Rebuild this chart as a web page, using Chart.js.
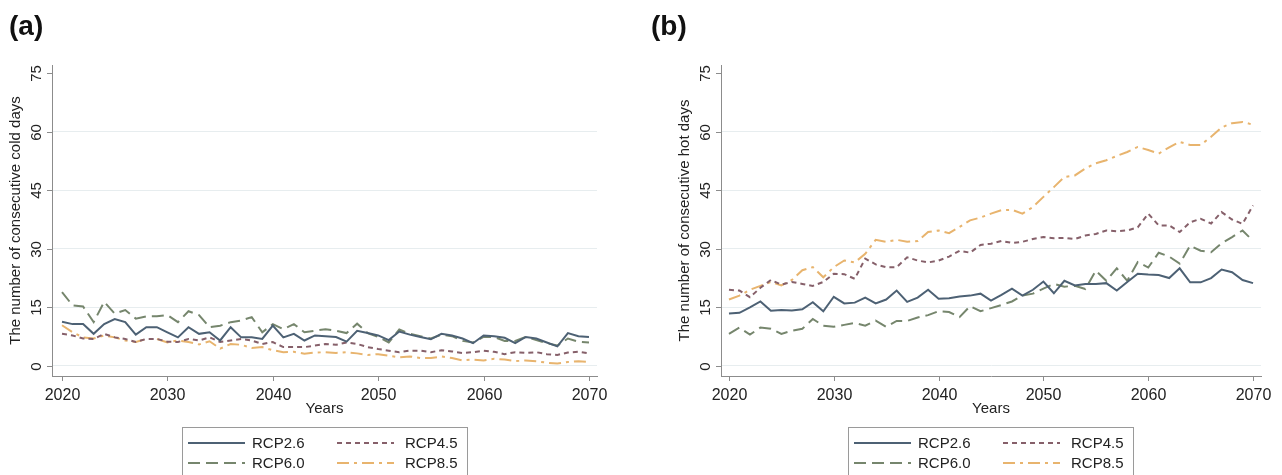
<!DOCTYPE html>
<html>
<head>
<meta charset="utf-8">
<script src="https://cdn.jsdelivr.net/npm/chart.js@4.4.1/dist/chart.umd.min.js"></script>
<style>
  body { margin: 0; background: #fff; }
  .wrap { display: flex; width: 1282px; height: 475px; overflow: hidden; }
  canvas { display: block; }
</style>
</head>
<body>
<div class="wrap">
  <canvas id="coldChart" width="641" height="475"></canvas>
  <canvas id="hotChart" width="641" height="475"></canvas>
</div>
<script>
// years on the x axis
const years = [2020,2021,2022,2023,2024,2025,2026,2027,2028,2029,
  2030,2031,2032,2033,2034,2035,2036,2037,2038,2039,
  2040,2041,2042,2043,2044,2045,2046,2047,2048,2049,
  2050,2051,2052,2053,2054,2055,2056,2057,2058,2059,
  2060,2061,2062,2063,2064,2065,2066,2067,2068,2069,2070]

const seriesNames = ['RCP2.6', 'RCP4.5', 'RCP6.0', 'RCP8.5']
const xTicks = [2020, 2030, 2040, 2050, 2060, 2070]
const yTicks = [0, 15, 30, 45, 60, 75]

// (a) consecutive cold days
const cold26 = [11.3,10.7,10.7,8.2,10.7,12,11.2,8,9.9,9.9,
  8.6,7.3,9.9,8.2,8.6,6.5,9.9,7.3,7.3,6.9,
  10.3,7.3,8.2,6.5,7.8,7.6,7.4,6.2,9,8.4,
  7.8,6.6,8.8,8,7.4,6.8,8.2,7.8,7,5.8,
  7.8,7.6,7.2,5.8,7.4,7,6,5,8.4,7.6,7.4]
const cold45 = [8.2,7.8,7,6.9,8.2,7.3,6.9,6.1,6.9,6.9,
  6.2,6.1,6.9,6.5,7.3,6.1,6.5,6.9,6.5,5.6,
  6.1,4.8,4.8,4.8,5.2,5.6,5.4,6,5.6,4.8,
  4.3,3.9,3.5,3.9,3.9,3.5,4,3.7,3.3,3.5,
  3.9,3.6,3,3.5,3.3,3.5,3,2.8,3.4,3.6,3.2]
const cold60 = [18.9,15.5,15.2,11.2,16.4,13.4,14.3,12.1,12.7,12.7,
  13,11.2,14,13,9.9,10.3,11.2,11.6,12.5,8.6,
  10.7,9.4,10.7,8.6,9,9.4,9,8.4,10.8,8.4,
  7.4,6,9.3,8.2,7.6,7,8,7.6,6.4,6,
  7.4,7.4,6.4,6.4,7.4,6.6,5.8,5.2,7,6.2,6]
const cold85 = [10.4,8.6,7.3,7,7.8,7.3,6.5,6.1,6.9,6.9,
  6,6.5,6.1,5.5,6.3,4.4,5.6,5.4,4.6,4.8,
  4,3.5,3.6,3.1,3.4,3.5,3.3,3.5,3.2,2.8,
  3,2.6,2.2,2.4,2,2,2.4,2,1.4,1.6,
  1.4,1.8,1.6,1.2,1.4,1.2,0.8,0.6,1,1.2,1]

// (b) consecutive hot days
const hot26 = [13.4,13.6,15,16.5,14.1,14.3,14.2,14.5,16.3,14,
  17.7,16,16.2,17.5,16,17,19.3,16.4,17.5,19.5,
  17.2,17.3,17.8,18,18.5,16.7,18.2,19.8,18,19.5,
  21.6,18.6,21.8,20.6,21,21,21.2,19.3,21.5,23.6,
  23.4,23.3,22.5,25,21.4,21.4,22.5,24.7,24,22,21.2]
const hot45 = [19.5,19.3,17.6,20,22,20.8,21.5,21,20.5,21.5,
  23.6,23.5,22.3,27.5,26,25.3,25.3,27.8,27,26.5,
  27,28,29.5,29,31,31.3,32,31.5,31.8,32.5,
  33,32.7,32.8,32.5,33.4,33.8,34.7,34.5,34.7,35.5,
  39,36,36,34.3,36.8,37.7,36.5,39.4,37.5,36.4,41.1]
const hot60 = [8.2,9.8,8,9.8,9.5,8.2,9,9.5,12,10.3,
  10,10.5,11,10.3,11.6,10,11.5,11.5,12.4,13,
  14,13.8,12.5,15.3,14,14.8,15.6,16.5,18,18.5,
  19.8,21,20.3,20.5,19.7,24.4,21.8,25,21.8,26.6,
  25.2,29,28,26.2,30.8,29.5,29.1,31.4,33,34.7,32]
const hot85 = [17,18,19.5,20.5,21.5,20.6,22,24.5,25.3,22.7,
  25.3,27,26.5,28.7,32.3,31.8,32.3,31.8,32,34.3,
  34.7,34,35.6,37.3,38,39,39.9,40,39,40.7,
  43.3,45.8,48.4,48.8,50.6,51.9,52.7,53.8,54.8,56.1,
  55.3,54.4,56,57.4,56.6,56.6,58.7,61.1,62.2,62.5,61.8]

const lineColors = ['#4d6174', '#86606a', '#76866d', '#e8b46e']
const lineDashes = [[], [5, 4], [12, 6], [12, 5, 3, 5]]
const FONT = '"Liberation Sans", Arial, sans-serif'

const toPoints = (vals) => vals.map((v, i) => ({x: years[i], y: v}))

// axis text, ticks, panel label and legend, placed with the chart's scales
const decorPlugin = {
  id: 'decor',
  afterDraw(chart, args, opts) {
    const ctx = chart.ctx
    const {left, right, top, bottom} = chart.chartArea
    const xs = chart.scales.x
    const ys = chart.scales.y
    ctx.save()
    ctx.strokeStyle = '#8c8c8c'
    ctx.lineWidth = 1
    ctx.fillStyle = '#222'

    // x ticks
    ctx.font = '16px ' + FONT
    ctx.textAlign = 'center'
    ctx.textBaseline = 'middle'
    xTicks.forEach(v => {
      const px = Math.round(xs.getPixelForValue(v)) + 0.5
      ctx.beginPath(); ctx.moveTo(px, bottom); ctx.lineTo(px, bottom + 5); ctx.stroke()
      ctx.fillText(String(v), px, bottom + 20)
    })

    // y ticks, labels turned like the original
    ctx.font = '15px ' + FONT
    yTicks.forEach(v => {
      const py = Math.round(ys.getPixelForValue(v)) + 0.5
      ctx.beginPath(); ctx.moveTo(left - 5, py); ctx.lineTo(left, py); ctx.stroke()
      ctx.save()
      ctx.translate(left - 15, py)
      ctx.rotate(-Math.PI / 2)
      ctx.fillText(String(v), 0, 0)
      ctx.restore()
    })

    // axis titles
    ctx.save()
    ctx.translate(left - 36, (top + bottom) / 2)
    ctx.rotate(-Math.PI / 2)
    ctx.fillText(opts.yTitle, 0, 0)
    ctx.restore()
    ctx.fillText('Years', (left + right) / 2, bottom + 33)

    // panel letter
    ctx.font = 'bold 28px ' + FONT
    ctx.textAlign = 'left'
    ctx.textBaseline = 'alphabetic'
    ctx.fillStyle = '#111'
    ctx.fillText(opts.panel, opts.panelX, 35)

    // legend
    const L = opts.legendLeft
    ctx.strokeStyle = '#9a9a9a'
    ctx.strokeRect(L + 0.5, 427.5, 285, 60)
    ctx.font = '15px ' + FONT
    ctx.textBaseline = 'middle'
    ctx.fillStyle = '#222'
    chart.data.datasets.forEach((ds, i) => {
      const col = i % 2
      const row = Math.floor(i / 2)
      const y = 443 + row * 20
      const x0 = L + (col === 0 ? 6 : 155)
      ctx.save()
      ctx.strokeStyle = ds.borderColor
      ctx.lineWidth = 2
      ctx.setLineDash(ds.borderDash)
      ctx.beginPath(); ctx.moveTo(x0, y); ctx.lineTo(x0 + 57, y); ctx.stroke()
      ctx.restore()
      ctx.fillText(ds.label, L + (col === 0 ? 70 : 223), y + 1)
    })
    ctx.restore()
  }
}

function makePanel(id, series, cfg) {
  const datasets = series.map((vals, i) => ({
    label: seriesNames[i],
    data: toPoints(vals),
    borderColor: lineColors[i],
    borderDash: lineDashes[i],
    borderWidth: 2,
    pointRadius: 0,
    tension: 0,
    fill: false
  }))
  return new Chart(document.getElementById(id), {
    type: 'line',
    data: {datasets},
    plugins: [decorPlugin],
    options: {
      responsive: false,
      animation: false,
      devicePixelRatio: 1,
      layout: {padding: cfg.padding},
      scales: {
        x: {
          type: 'linear',
          min: cfg.xMin,
          max: cfg.xMax,
          afterBuildTicks: s => { s.ticks = xTicks.map(v => ({value: v})) },
          ticks: {display: false},
          grid: {color: 'rgba(0,0,0,0)', drawTicks: false},
          border: {display: true, color: '#8c8c8c', width: 1}
        },
        y: {
          type: 'linear',
          min: -2.6,
          max: 77.1,
          afterBuildTicks: s => { s.ticks = yTicks.map(v => ({value: v})) },
          ticks: {display: false},
          grid: {
            drawTicks: false,
            lineWidth: 1,
            color: c => (c.tick && c.tick.value === 75) ? 'rgba(0,0,0,0)' : '#e7edef'
          },
          border: {display: true, color: '#8c8c8c', width: 1}
        }
      },
      plugins: {
        legend: {display: false},
        tooltip: {enabled: false},
        decor: cfg.decor
      }
    }
  })
}

makePanel('coldChart', [cold26, cold45, cold60, cold85], {
  padding: {left: 52, right: 44, top: 65, bottom: 99},
  xMin: 2019.05, xMax: 2070.76,
  decor: {panel: '(a)', panelX: 9, yTitle: 'The number of consecutive cold days', legendLeft: 182}
})

makePanel('hotChart', [hot26, hot45, hot60, hot85], {
  padding: {left: 80, right: 21, top: 65, bottom: 99},
  xMin: 2019.24, xMax: 2070.76,
  decor: {panel: '(b)', panelX: 10, yTitle: 'The number of consecutive hot days', legendLeft: 207}
})
</script>
</body>
</html>
